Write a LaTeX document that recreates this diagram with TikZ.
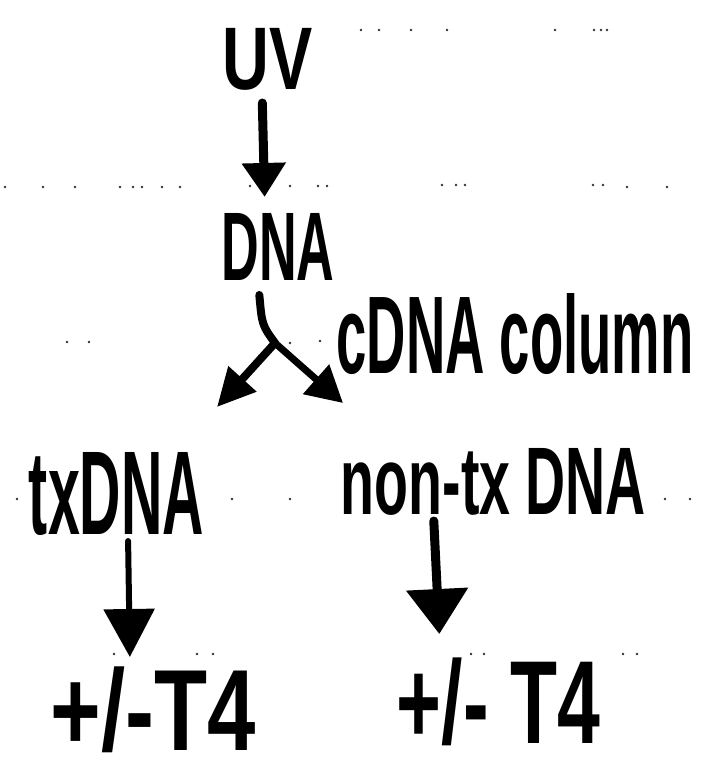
\documentclass[tikz,border=0pt]{standalone}
\usepackage{fontspec}
\setmainfont{Liberation Sans}
\usepackage{graphicx}
\usetikzlibrary{arrows.meta}
\tikzset{
  hw/.style={inner sep=0pt, outer sep=0pt, font=\bfseries},
  shaft/.style={line width=#1, line cap=round, line join=round},
  shaft/.default=8pt,
  ruledot/.style={fill=black!80},
}
\newcommand{\hwtext}[3]{\resizebox*{#1pt}{#2pt}{#3}}
\begin{document}
\begin{tikzpicture}[x=1pt,y=-1pt]
\useasboundingbox (0,0) rectangle (703,777);
\fill[white] (0,0) rectangle (703,777);

% faint notebook dots
\foreach \px/\py in {361/30,379/30,411/30,447/30,555/30,594/30,601/30,607/30,
  5/187,43/187,75/187,120/187,133/187,142/187,162/187,180/187,
  250/186,290/186,318/186,327/186,442/185,456/185,465/185,593/185,603/185,627/187,667/187,
  67/342,89/342,290/343,320/341,
  17/499,113/499,232/499,290/499,665/499,690/499,
  114/654,197/654,213/654,471/654,484/654,623/654,637/654}
  \fill[ruledot] (\px,\py) circle (1.3pt);

% texts
\node[hw] (uv)    at (268,59)      {\hwtext{90}{62}{UV}};
\node[hw] (dna)   at (278,246.5)   {\hwtext{113}{67}{DNA}};
\node[hw] (col)   at (515,334)     {\hwtext{357}{81}{cDNA column}};
\node[hw] (tx)    at (116.5,493.5) {\hwtext{175}{83}{txDNA}};
\node[hw] (nontx) at (493.5,481.5) {\hwtext{305}{67}{non-tx DNA}};
\node[hw] (t4l)   at (153.5,710)   {\hwtext{205}{86}{+/-T4}};
\node[hw] (t4r)   at (498.5,702)   {\hwtext{203}{88}{+/- T4}};

% fork points
\coordinate (fork)  at (275,343);
\coordinate (forkL) at (217,407);
\coordinate (forkR) at (343,403);

% UV -> DNA
\draw[shaft=9pt, -{Triangle[length=34pt,width=42pt]}, shorten <=13pt, shorten >=16pt]
  ([xshift=-6pt]uv.south) -- ([xshift=-13pt]dna.north);

% DNA -> fork (split)
\draw[shaft=8pt, shorten <=15pt]
  ([xshift=-20pt]dna.south) .. controls (262,325) .. (fork);
\draw[shaft=8pt, -{Triangle[length=38pt,width=36pt]}]
  (fork) .. controls (255,365) .. (forkL);
\draw[shaft=7pt, -{Triangle[length=36pt,width=38pt]}]
  (fork) -- (forkR);

% txDNA -> +/-T4
\draw[shaft=6pt, -{Triangle[length=48pt,width=50pt]}, shorten <=6pt, shorten >=10pt]
  ([xshift=11.5pt]tx.south) -- ([xshift=-23.5pt]t4l.north);

% non-tx DNA -> +/- T4
\draw[shaft=9pt, -{Triangle[length=45pt,width=60pt]}, shorten <=6pt, shorten >=24pt]
  ([xshift=-60pt]nontx.south) -- ([xshift=-58pt]t4r.north);
\end{tikzpicture}
\end{document}
